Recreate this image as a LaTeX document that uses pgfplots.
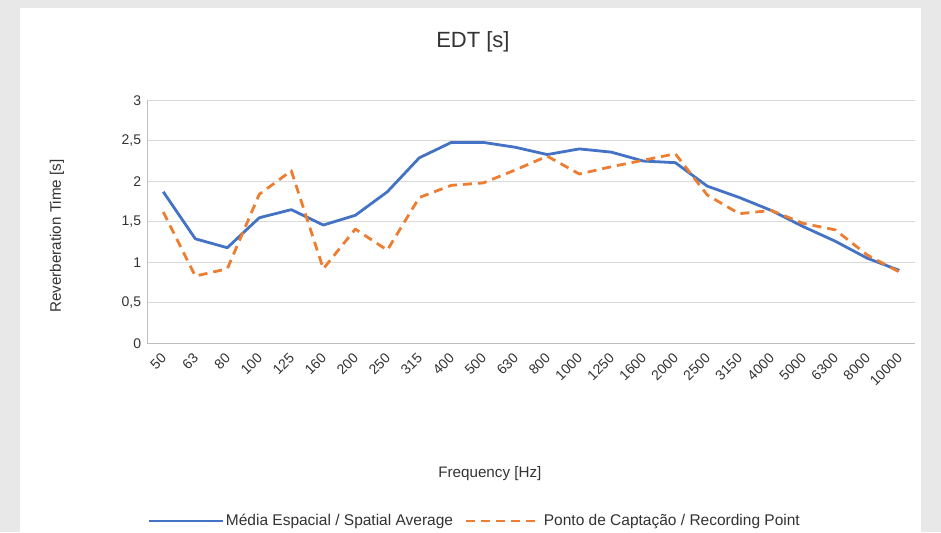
\documentclass[border=0pt]{standalone}
\usepackage{fontspec}
\setmainfont{Liberation Sans}
\usepackage{pgfplots}
\usepackage{pgfplotstable}
\pgfplotsset{compat=1.18}
\definecolor{cblue}{HTML}{4472C4}
\definecolor{corange}{HTML}{ED7D31}
\definecolor{gridc}{HTML}{D9D9D9}
\definecolor{axc}{HTML}{BFBFBF}
\definecolor{txt}{HTML}{333333}
\definecolor{bg}{HTML}{E8E8E8}
\pgfplotstableread{
idx blue orange
0 1.87 1.62
1 1.29 0.83
2 1.18 0.92
3 1.55 1.84
4 1.65 2.13
5 1.46 0.92
6 1.58 1.41
7 1.87 1.15
8 2.29 1.80
9 2.48 1.95
10 2.48 1.98
11 2.42 2.14
12 2.33 2.31
13 2.40 2.09
14 2.36 2.18
15 2.25 2.26
16 2.23 2.34
17 1.94 1.83
18 1.80 1.60
19 1.64 1.64
20 1.44 1.48
21 1.26 1.40
22 1.05 1.09
23 0.90 0.88
}\edt
\begin{document}
\begin{tikzpicture}[x=1pt,y=1pt]
\path[use as bounding box, fill=bg] (0,0) rectangle (941,532);
\fill[white] (20,0) rectangle (921,524);
\begin{axis}[
  at={(147.3pt,188.7pt)}, anchor=south west,
  scale only axis, width=768pt, height=243pt,
  xmin=-0.5, xmax=23.5, ymin=0, ymax=3,
  ytick={0,0.5,1,1.5,2,2.5,3},
  xtick={0,...,23},
  xticklabels={50,63,80,100,125,160,200,250,315,400,500,630,800,1000,1250,1600,2000,2500,3150,4000,5000,6300,8000,10000},
  axis x line*=bottom, axis y line*=left,
  axis line style={draw=axc, line width=1pt, -},
  ymajorgrids, grid style={draw=gridc, line width=1pt},
  major tick length=0pt,
  tick label style={font=\fontsize{14}{16}\selectfont, text=txt},
  /pgf/number format/use comma,
  /pgf/number format/assume math mode=true,
  xticklabel style={xshift=0.5pt, yshift=-12.5pt, rotate=45, anchor=east, inner sep=0pt},
  yticklabel style={anchor=east, inner sep=0pt, xshift=-6pt},
  title={EDT [s]},
  title style={at={(axis description cs:0.424,1.215)}, anchor=center, font=\fontsize{22}{26}\selectfont, text=txt},
  xlabel={Frequency [Hz]},
  xlabel style={at={(axis description cs:0.446,-0.538)}, anchor=center, font=\fontsize{15.2}{18}\selectfont, text=txt},
  ylabel={Reverberation Time [s]},
  ylabel style={at={(axis description cs:-0.1176,0.4416)}, anchor=center, font=\fontsize{15.2}{18}\selectfont, text=txt},
  legend style={at={(axis description cs:0.426,-0.731)}, anchor=center, draw=none, fill=none,
    font=\fontsize{15.5}{18}\selectfont, text=txt, legend columns=2,
    /tikz/every even column/.append style={column sep=10pt}},
  legend image code/.code={\draw[#1] (0pt,0pt) -- (74pt,0pt);},
]
\addplot[cblue, line width=2.8pt, line join=round, mark=none] table[x=idx,y=blue]{\edt};
\addlegendentry{Média Espacial / Spatial Average}
\addplot[corange, line width=2.8pt, line join=round, dash pattern=on 9pt off 6pt, mark=none] table[x=idx,y=orange]{\edt};
\addlegendentry{Ponto de Captação / Recording Point}
\end{axis}
\end{tikzpicture}
\end{document}
